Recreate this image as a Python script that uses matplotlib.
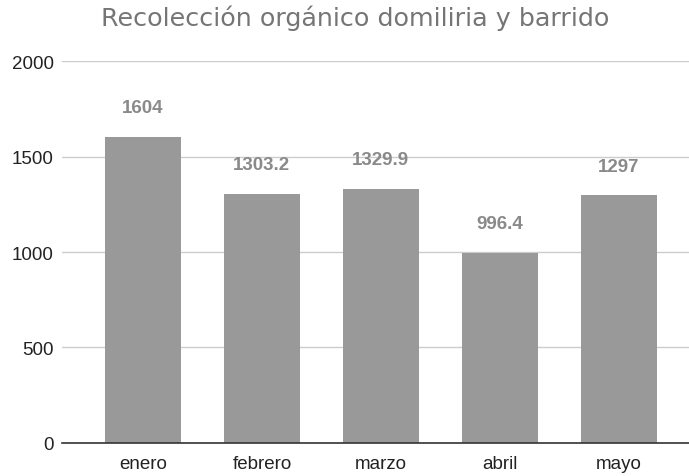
import matplotlib
matplotlib.use("Agg")
from matplotlib import pyplot as plt

# datos
meses = ["enero", "febrero", "marzo", "abril", "mayo"]
toneladas = [1604, 1303.2, 1329.9, 996.4, 1297]
etiquetas = ["1604", "1303.2", "1329.9", "996.4", "1297"]
marcas_y = [0, 500, 1000, 1500, 2000]

fig = plt.figure(figsize=(6.89, 4.77), dpi=100)
ax = fig.add_axes([0.09, 0.0692, 0.91, 0.8008])

pos = list(range(len(meses)))
barras = ax.bar(pos, toneladas, width=0.64, color="#999999", zorder=3)

# etiquetas de valor
for b, txt in zip(barras, etiquetas):
    ax.annotate(txt, (b.get_x() + b.get_width() / 2, b.get_height()),
                xytext=(0, 21), textcoords="offset points",
                ha="center", va="center", fontsize=13.5, fontweight="bold",
                color="#8a8a8a", family="Liberation Sans")

ax.set_xlim(-0.68, 4.59)
ax.set_ylim(0, 2000)
ax.set_yticks(marcas_y)
ax.set_xticks(pos)
ax.set_xticklabels(meses)
ax.grid(axis="y", color="#cccccc", linewidth=1, zorder=0)
for s in ["top", "right", "left"]:
    ax.spines[s].set_visible(False)
ax.spines["bottom"].set_color("#333333")
ax.spines["bottom"].set_linewidth(1.2)
ax.spines["bottom"].set_zorder(4)
ax.tick_params(length=0, labelsize=13.5, labelcolor="#222222")
ax.tick_params(axis="x", pad=9)
ax.tick_params(axis="y", pad=6)
for lbl in ax.get_xticklabels() + ax.get_yticklabels():
    lbl.set_family("Liberation Sans")

fig.text(0.515, 0.962, "Recolección orgánico domiliria y barrido",
         ha="center", va="center", fontsize=18.3, color="#757575",
         family="DejaVu Sans")

fig.savefig("out.png", dpi=100)
